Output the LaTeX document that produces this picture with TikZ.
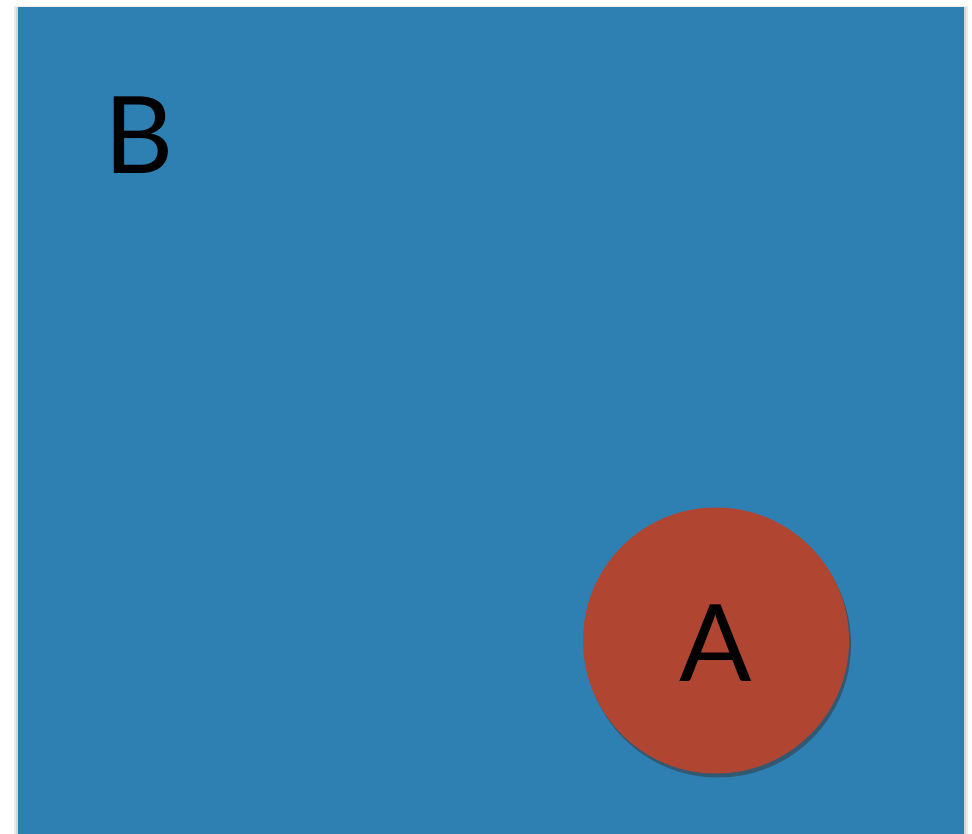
\documentclass[tikz,border=0pt]{standalone}
\usepackage{fontspec}
\setmainfont{Lato}
\usetikzlibrary{shadows}
\definecolor{bgblue}{RGB}{47,128,178}
\definecolor{cred}{RGB}{176,70,50}
\begin{document}
\begin{tikzpicture}[x=1pt,y=-1pt,
  lbl/.style={anchor=base,inner sep=0pt,font=\fontsize{107}{120}\selectfont,text=black}]
\useasboundingbox (0,0) rectangle (972,834);
\fill[white] (0,0) rectangle (972,834);
\fill[black!8] (14,6) rectangle (968,834);
\fill[black!16] (16,7) rectangle (966,834);
\fill[bgblue] (18,7) rectangle (964,834);
\node[circle,fill=cred,minimum size=266pt,inner sep=0pt,
  drop shadow={shadow xshift=2pt,shadow yshift=-4pt,opacity=0.5,fill=black!80}] (circA) at (716,640.5) {};
\node[lbl] (labA) at (715.5,681) {A};
\node[lbl] (labB) at (139.5,174) {B};
\end{tikzpicture}
\end{document}
